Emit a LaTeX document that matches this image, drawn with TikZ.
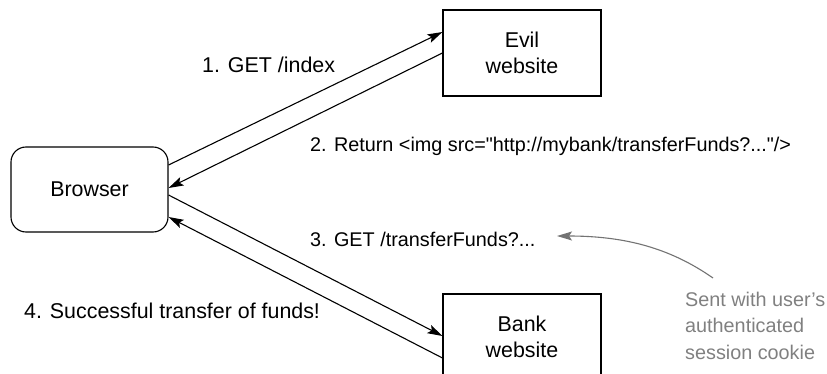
\documentclass[tikz,border=0pt]{standalone}
\usepackage{fontspec}
\newfontfamily\arialfont{Liberation Sans}
\usetikzlibrary{arrows.meta}
\begin{document}
\begin{tikzpicture}[x=1pt,y=-1pt,
  every node/.style={font=\arialfont\fontsize{21.4}{26}\selectfont, inner sep=0pt},
  box/.style={draw, line width=1.1pt, minimum width=158pt, minimum height=86pt, align=center},
  conn/.style={line width=1.1pt, -{Stealth[length=15pt,width=9pt,inset=3pt]}},
  lbl/.style={anchor=base west},
  smalllbl/.style={anchor=base west, font=\arialfont\fontsize{19.8}{26}\selectfont},
  note/.style={anchor=base west, text=black!50, font=\arialfont\fontsize{19.8}{26}\selectfont},
  notearrow/.style={draw=black!55, line width=1.1pt, -{Stealth[length=15pt,width=9pt,inset=3pt]}}
]
\useasboundingbox (0,0) rectangle (827,374);
\clip (0,0) rectangle (827,374);
\node[box, rounded corners=15pt, minimum width=157pt, minimum height=85pt] (browser) at (89.5,189.5) {Browser};
\node[box] (evil) at (522,53) {Evil\\website};
\node[box] (bank) at (522,337) {Bank\\website};

\draw[conn] ([yshift=24.5pt]browser.east) -- ([yshift=21pt]evil.west);
\draw[conn] (evil.west) -- ([yshift=1.5pt]browser.east);
\draw[conn] ([yshift=-5.5pt]browser.east) -- ([yshift=1pt]bank.west);
\draw[conn] ([yshift=-21pt]bank.west) -- ([yshift=-27.5pt]browser.east);

\node[lbl] (l1) at (202,73) {1. GET /index};
\node[smalllbl] (l2) at (310,152) {2. Return <img src="http://mybank/transferFunds?..."/>};
\node[smalllbl] (l3) at (310,246) {3. GET /transferFunds?...};
\node[lbl] (l4) at (24,318) {4. Successful transfer of funds!};

\node[note] (n1) at (685,306) {Sent with user’s};
\node[note] (n2) at (685,332.5) {authenticated};
\node[note] (n3) at (685,359) {session cookie};
\coordinate (nstart) at (713,278);
\coordinate (ntip) at (557,236);
\draw[notearrow] (nstart) .. controls (670,248) and (625,236) .. (ntip);
\end{tikzpicture}
\end{document}
